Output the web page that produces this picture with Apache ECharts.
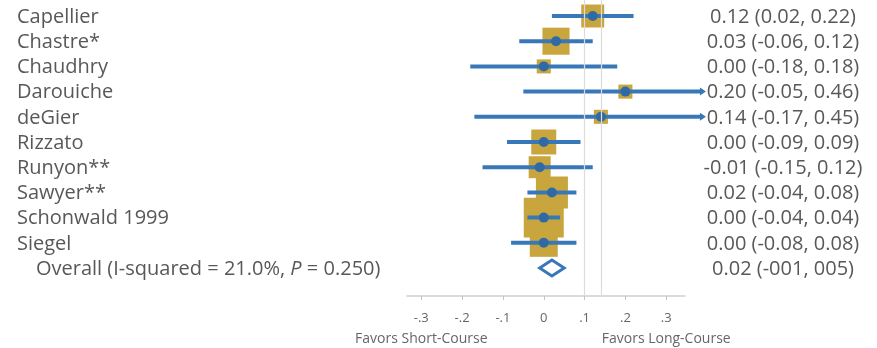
<!DOCTYPE html>
<html>
<head>
<meta charset="utf-8">
<script src="https://cdn.jsdelivr.net/npm/echarts@6/dist/echarts.min.js"></script>
<style>
html,body{margin:0;padding:0;background:#fff;}
#chart{width:877px;height:348px;}
</style>
</head>
<body>
<div id="chart"></div>
<script>
// ---- data ----
const studies = ['Capellier','Chastre*','Chaudhry','Darouiche','deGier','Rizzato','Runyon**','Sawyer**','Schonwald 1999','Siegel'];
const estimates = [0.12, 0.03, 0.00, 0.20, 0.14, 0.00, -0.01, 0.02, 0.00, 0.00];
const lowerCI = [0.02, -0.06, -0.18, -0.05, -0.17, -0.09, -0.15, -0.04, -0.04, -0.08];
const upperCI = [0.22, 0.12, 0.18, 0.46, 0.45, 0.09, 0.12, 0.08, 0.04, 0.08];
const weights = [8.3, 11.5, 3.1, 3.1, 3.1, 9.8, 7.6, 16.1, 25.1, 12.3];
const effectLabels = ['0.12 (0.02, 0.22)','0.03 (-0.06, 0.12)','0.00 (-0.18, 0.18)','0.20 (-0.05, 0.46)','0.14 (-0.17, 0.45)','0.00 (-0.09, 0.09)','-0.01 (-0.15, 0.12)','0.02 (-0.04, 0.08)','0.00 (-0.04, 0.04)','0.00 (-0.08, 0.08)'];
const overallEst = [0.02];
const overallLower = [-0.01];
const overallUpper = [0.05];
const overallEffectLabel = '0.02 (-001, 005)';
const xTicks = [-0.3, -0.2, -0.1, 0, 0.1, 0.2, 0.3];
const xTickLabels = ['-.3', '-.2', '-.1', '0', '.1', '.2', '.3'];
const sideLabelPos = [-0.3, 0.3];
const sideLabelText = ['Favors Short-Course', 'Favors Long-Course'];
const refLines = [0.1, 0.145];
const axisMin = -0.335, axisMax = 0.346;

// ---- styles ----
const BLUE = '#3878b8', DOT = '#2f6aa5', GOLD = '#c9a53e', TXT = '#585858';
const FONT = '"Open Sans", "Noto Sans", sans-serif';
const FS = 20;
const SQ_SCALE = 7.98;
const overallRow = studies.length;
const yMin = -0.635, yMax = 11.11;

const chart = echarts.init(document.getElementById('chart'), null, {renderer: 'canvas'});

const option = {
  animation: false,
  backgroundColor: '#ffffff',
  grid: {left: 407, top: 0, width: 278, height: 296},
  xAxis: {
    type: 'value', min: axisMin, max: axisMax,
    axisLine: {show: true, onZero: false, lineStyle: {color: '#cfcfcf', width: 1.5}},
    axisTick: {show: true, customValues: xTicks, length: 4, lineStyle: {color: '#c4c4c4'}},
    splitLine: {show: false},
    axisLabel: {
      customValues: xTicks, margin: 16, color: '#666', fontSize: 13, fontFamily: FONT,
      hideOverlap: false, showMinLabel: true, showMaxLabel: true,
      formatter: function (v) {
        const idx = xTicks.findIndex(t => Math.abs(t - v) < 1e-9);
        return idx >= 0 ? xTickLabels[idx] : '';
      }
    }
  },
  yAxis: {type: 'value', inverse: true, min: yMin, max: yMax, show: false},
  series: [
    { // reference lines
      type: 'line', data: [], silent: true,
      markLine: {
        silent: true, symbol: 'none', label: {show: false},
        lineStyle: {color: '#dcdcdc', width: 1.2, type: 'solid'},
        data: refLines.map(v => ({xAxis: v}))
      }
    },
    { // weight squares
      type: 'custom', clip: false, z: 2,
      data: studies.map((s, i) => [estimates[i], i]),
      renderItem: function (params, api) {
        const i = params.dataIndex;
        const c = api.coord([estimates[i], i]);
        const side = SQ_SCALE * Math.sqrt(weights[i]);
        return {type: 'rect', shape: {x: c[0] - side / 2, y: c[1] - side / 2, width: side, height: side}, style: {fill: GOLD}};
      }
    },
    { // CI lines + point estimates
      type: 'custom', clip: false, z: 3,
      data: studies.map((s, i) => [estimates[i], i]),
      renderItem: function (params, api) {
        const i = params.dataIndex;
        const clipHi = 0.39;
        const hiV = Math.min(upperCI[i], clipHi);
        const a = api.coord([lowerCI[i], i]);
        const b = api.coord([hiV, i]);
        const children = [{type: 'line', shape: {x1: a[0], y1: a[1], x2: b[0], y2: b[1]}, style: {stroke: BLUE, lineWidth: 4}}];
        if (upperCI[i] > clipHi) {
          children.push({type: 'polygon', shape: {points: [[b[0] + 3, b[1]], [b[0] - 3, b[1] - 4], [b[0] - 3, b[1] + 4]]}, style: {fill: BLUE}});
        }
        const d = api.coord([estimates[i], i]);
        children.push({type: 'circle', shape: {cx: d[0], cy: d[1], r: 5}, style: {fill: DOT}});
        return {type: 'group', children: children};
      }
    },
    { // overall diamond
      type: 'custom', clip: false, z: 4,
      data: overallEst.map((v, i) => [v, overallRow]),
      renderItem: function (params, api) {
        const i = params.dataIndex;
        const l = api.coord([overallLower[i], overallRow]);
        const m = api.coord([overallEst[i], overallRow]);
        const r = api.coord([overallUpper[i], overallRow]);
        const h = 8;
        return {type: 'polygon', shape: {points: [[l[0], l[1]], [m[0], m[1] - h], [r[0], r[1]], [m[0], m[1] + h]]},
          style: {fill: '#ffffff', stroke: BLUE, lineWidth: 3}};
      }
    },
    { // left study labels
      type: 'custom', clip: false, z: 5, silent: true,
      data: studies.map((s, i) => [0, i]).concat([[0, overallRow]]),
      renderItem: function (params, api) {
        const i = params.dataIndex;
        const c = api.coord([0, i]);
        if (i === overallRow) {
          return {type: 'text', x: 36, y: c[1] + 1, style: {
            text: '{n|Overall (I-squared = 21.0%, }{i|P}{n| = 0.250)}',
            rich: {n: {fontSize: FS, fontFamily: FONT, fill: TXT, color: TXT}, i: {fontSize: FS, fontFamily: FONT, fontStyle: 'italic', fill: TXT, color: TXT}},
            align: 'left', verticalAlign: 'middle'}};
        }
        return {type: 'text', x: 17, y: c[1] + 1, style: {text: studies[i], fontSize: FS, fontFamily: FONT, fill: TXT, align: 'left', verticalAlign: 'middle'}};
      }
    },
    { // right effect labels
      type: 'custom', clip: false, z: 1, silent: true,
      data: studies.map((s, i) => [0, i]).concat([[0, overallRow]]),
      renderItem: function (params, api) {
        const i = params.dataIndex;
        const c = api.coord([0, i]);
        const t = i === overallRow ? overallEffectLabel : effectLabels[i];
        return {type: 'text', x: 783, y: c[1] + 1, style: {text: t, fontSize: FS, fontFamily: FONT, fill: TXT, align: 'center', verticalAlign: 'middle'}};
      }
    },
    { // favors labels under the outer ticks
      type: 'custom', clip: false, z: 5, silent: true,
      data: sideLabelPos.map(v => [v, yMax]),
      renderItem: function (params, api) {
        const i = params.dataIndex;
        const c = api.coord([sideLabelPos[i], yMax]);
        return {type: 'text', x: c[0], y: c[1] + 43, style: {text: sideLabelText[i], fontSize: 14, fontFamily: FONT, fill: '#666', align: 'center', verticalAlign: 'middle'}};
      }
    }
  ]
};
chart.setOption(option);
</script>
</body>
</html>
